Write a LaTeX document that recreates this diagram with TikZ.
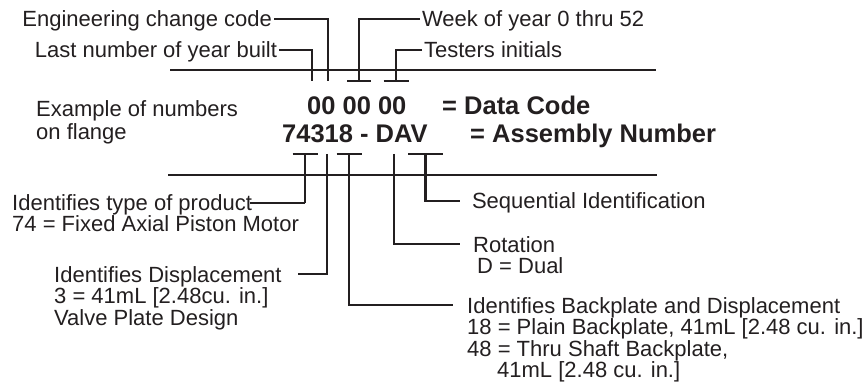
\documentclass[tikz,border=0pt]{standalone}
\usepackage{fontspec}
\setmainfont{Liberation Sans}
\usetikzlibrary{calc}
\definecolor{ink}{HTML}{231F20}
\begin{document}
\begin{tikzpicture}[x=1pt,y=-1pt,
  lbl/.style={inner sep=0pt, outer xsep=2pt, font=\fontsize{22}{22.8}\selectfont, text=ink, text height=16pt, text depth=0pt},
  ml/.style={inner sep=0pt, font=\fontsize{22}{21.6}\selectfont, text=ink, align=left},
  blk/.style={inner sep=0pt, font=\fontsize{25.5}{28}\selectfont\bfseries, text=ink, text height=18.4pt, text depth=0pt},
  ln/.style={draw=ink, line width=2.8pt},
  thinln/.style={draw=ink, line width=1.6pt}]
\useasboundingbox (0,0) rectangle (867,387);

% main horizontal lines
\coordinate (u1) at (170,70); \coordinate (u2) at (656,70);
\coordinate (l1) at (168,175); \coordinate (l2) at (657,175);
\draw[ln] (u1) -- (u2);
\draw[ln] (l1) -- (l2);

% top labels
\node[lbl, anchor=east] (ecc) at (274,19) {Engineering change code};
\node[lbl, anchor=east] (lny) at (279,50) {Last number of year built};
\node[lbl, anchor=west] (wk) at (420,19) {Week of year 0 thru 52};
\node[lbl, anchor=west] (ti) at (422,50) {Testers initials};

\coordinate (eB) at (328,81);
\coordinate (yB) at (312,81);
\coordinate (wB) at (359,81);
\coordinate (tB) at (396,81);
\draw[ln] (ecc.east) -| (eB);
\draw[ln] (lny.east) -| (yB);
\draw[ln] (wk.west) -| (wB);
\draw[ln] (ti.west) -| (tB);
\draw[ln] ($(wB)+(-12,0)$) -- ($(wB)+(12,0)$);
\draw[ln] ($(tB)+(-12.5,0)$) -- ($(tB)+(12.5,0)$);

% codes
\node[ml, anchor=north west, font=\fontsize{22}{23.5}\selectfont] (ex) at (36,100) {Example of numbers\\on flange};
\node[blk, anchor=west] (dc) at (307,105) {00 00 00};
\node[blk, anchor=west] (dcl) at (442,105) {= Data Code};
\node[blk, anchor=west] (an) at (282,133) {74318 - DAV};
\node[blk, anchor=west] (anl) at (470,133) {= Assembly Number};

% bottom labels
\node[ml, anchor=north west] (prod) at (12,194) {Identifies type of product\\74 = Fixed Axial Piston Motor};
\node[ml, anchor=north west] (disp) at (54,266) {Identifies Displacement\\3 = 41mL [2.48cu. in.]\\Valve Plate Design};
\node[ml, anchor=north west] (bp) at (467,297) {Identifies Backplate and Displacement\\18 = Plain Backplate, 41mL [2.48 cu. in.]\\48 = Thru Shaft Backplate,\\\hspace*{30pt}41mL [2.48 cu. in.]};
\node[ml, anchor=north west] (rot) at (473,236) {Rotation\\\hspace*{4pt}D = Dual};
\node[lbl, anchor=west] (sq) at (470,201) {Sequential Identification};

\coordinate (p1) at (305,154);
\coordinate (p2) at (327,154);
\coordinate (p3) at (349,154);
\coordinate (p4) at (394,154);
\coordinate (p5) at (425.5,154);
\coordinate (pE) at (250,203);
\coordinate (dE) at (298,274);
\coordinate (bE) at (453,305);
\coordinate (rE) at (460,244);
\coordinate (sE) at (460,201);

\draw[ln] ($(p1)+(-12.5,0)$) -- ($(p1)+(12.5,0)$);
\draw[ln] ($(p3)+(-12.5,0)$) -- ($(p3)+(12.5,0)$);
\draw[ln] ($(p5)+(-17.5,0)$) -- ($(p5)+(17.5,0)$);
\draw[ln] (p1) -- (p1 |- pE);
\draw[thinln] (p1 |- pE) -- (pE);
\draw[ln] (p2) |- (dE);
\draw[ln] (p3) |- (bE);
\draw[ln] (p4) |- (rE);
\draw[ln] (p5) |- (sE);
\end{tikzpicture}
\end{document}
